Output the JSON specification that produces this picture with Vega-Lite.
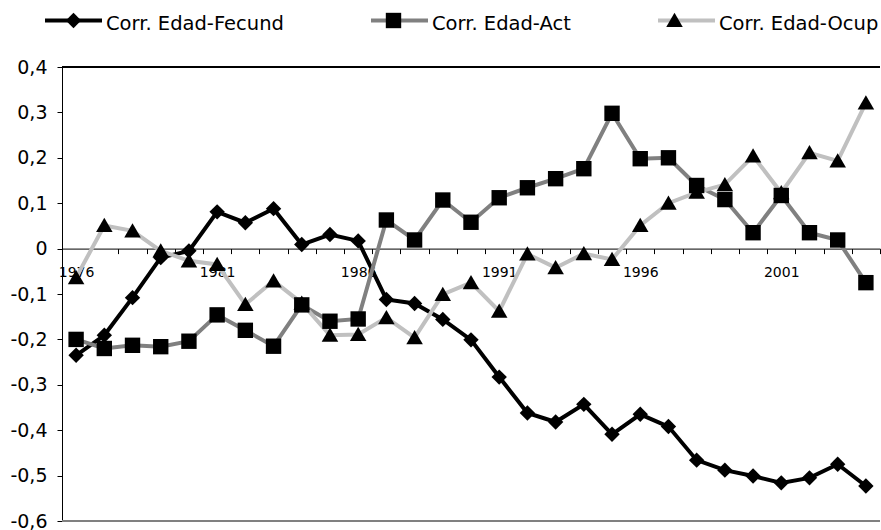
{
  "$schema": "https://vega.github.io/schema/vega-lite/v6.json",
  "width": 818,
  "height": 454,
  "autosize": "none",
  "padding": {"left": 62, "top": 67, "right": 1, "bottom": 9},
  "background": "white",
  "config": {"view": {"stroke": null}, "font": "DejaVu Sans"},
  "data": {"values": [
    {"year": 1976, "series": "Corr. Edad-Fecund", "value": -0.235},
    {"year": 1977, "series": "Corr. Edad-Fecund", "value": -0.191},
    {"year": 1978, "series": "Corr. Edad-Fecund", "value": -0.108},
    {"year": 1979, "series": "Corr. Edad-Fecund", "value": -0.020},
    {"year": 1980, "series": "Corr. Edad-Fecund", "value": -0.005},
    {"year": 1981, "series": "Corr. Edad-Fecund", "value": 0.081},
    {"year": 1982, "series": "Corr. Edad-Fecund", "value": 0.057},
    {"year": 1983, "series": "Corr. Edad-Fecund", "value": 0.088},
    {"year": 1984, "series": "Corr. Edad-Fecund", "value": 0.009},
    {"year": 1985, "series": "Corr. Edad-Fecund", "value": 0.031},
    {"year": 1986, "series": "Corr. Edad-Fecund", "value": 0.017},
    {"year": 1987, "series": "Corr. Edad-Fecund", "value": -0.112},
    {"year": 1988, "series": "Corr. Edad-Fecund", "value": -0.121},
    {"year": 1989, "series": "Corr. Edad-Fecund", "value": -0.156},
    {"year": 1990, "series": "Corr. Edad-Fecund", "value": -0.201},
    {"year": 1991, "series": "Corr. Edad-Fecund", "value": -0.283},
    {"year": 1992, "series": "Corr. Edad-Fecund", "value": -0.362},
    {"year": 1993, "series": "Corr. Edad-Fecund", "value": -0.382},
    {"year": 1994, "series": "Corr. Edad-Fecund", "value": -0.343},
    {"year": 1995, "series": "Corr. Edad-Fecund", "value": -0.409},
    {"year": 1996, "series": "Corr. Edad-Fecund", "value": -0.365},
    {"year": 1997, "series": "Corr. Edad-Fecund", "value": -0.392},
    {"year": 1998, "series": "Corr. Edad-Fecund", "value": -0.466},
    {"year": 1999, "series": "Corr. Edad-Fecund", "value": -0.488},
    {"year": 2000, "series": "Corr. Edad-Fecund", "value": -0.501},
    {"year": 2001, "series": "Corr. Edad-Fecund", "value": -0.516},
    {"year": 2002, "series": "Corr. Edad-Fecund", "value": -0.505},
    {"year": 2003, "series": "Corr. Edad-Fecund", "value": -0.475},
    {"year": 2004, "series": "Corr. Edad-Fecund", "value": -0.523},
    {"year": 1976, "series": "Corr. Edad-Act", "value": -0.200},
    {"year": 1977, "series": "Corr. Edad-Act", "value": -0.220},
    {"year": 1978, "series": "Corr. Edad-Act", "value": -0.213},
    {"year": 1979, "series": "Corr. Edad-Act", "value": -0.216},
    {"year": 1980, "series": "Corr. Edad-Act", "value": -0.204},
    {"year": 1981, "series": "Corr. Edad-Act", "value": -0.146},
    {"year": 1982, "series": "Corr. Edad-Act", "value": -0.180},
    {"year": 1983, "series": "Corr. Edad-Act", "value": -0.215},
    {"year": 1984, "series": "Corr. Edad-Act", "value": -0.124},
    {"year": 1985, "series": "Corr. Edad-Act", "value": -0.160},
    {"year": 1986, "series": "Corr. Edad-Act", "value": -0.155},
    {"year": 1987, "series": "Corr. Edad-Act", "value": 0.063},
    {"year": 1988, "series": "Corr. Edad-Act", "value": 0.019},
    {"year": 1989, "series": "Corr. Edad-Act", "value": 0.107},
    {"year": 1990, "series": "Corr. Edad-Act", "value": 0.058},
    {"year": 1991, "series": "Corr. Edad-Act", "value": 0.112},
    {"year": 1992, "series": "Corr. Edad-Act", "value": 0.134},
    {"year": 1993, "series": "Corr. Edad-Act", "value": 0.154},
    {"year": 1994, "series": "Corr. Edad-Act", "value": 0.176},
    {"year": 1995, "series": "Corr. Edad-Act", "value": 0.298},
    {"year": 1996, "series": "Corr. Edad-Act", "value": 0.198},
    {"year": 1997, "series": "Corr. Edad-Act", "value": 0.200},
    {"year": 1998, "series": "Corr. Edad-Act", "value": 0.139},
    {"year": 1999, "series": "Corr. Edad-Act", "value": 0.108},
    {"year": 2000, "series": "Corr. Edad-Act", "value": 0.035},
    {"year": 2001, "series": "Corr. Edad-Act", "value": 0.117},
    {"year": 2002, "series": "Corr. Edad-Act", "value": 0.035},
    {"year": 2003, "series": "Corr. Edad-Act", "value": 0.019},
    {"year": 2004, "series": "Corr. Edad-Act", "value": -0.075},
    {"year": 1976, "series": "Corr. Edad-Ocup", "value": -0.064},
    {"year": 1977, "series": "Corr. Edad-Ocup", "value": 0.051},
    {"year": 1978, "series": "Corr. Edad-Ocup", "value": 0.039},
    {"year": 1979, "series": "Corr. Edad-Ocup", "value": -0.005},
    {"year": 1980, "series": "Corr. Edad-Ocup", "value": -0.027},
    {"year": 1981, "series": "Corr. Edad-Ocup", "value": -0.035},
    {"year": 1982, "series": "Corr. Edad-Ocup", "value": -0.123},
    {"year": 1983, "series": "Corr. Edad-Ocup", "value": -0.071},
    {"year": 1984, "series": "Corr. Edad-Ocup", "value": -0.120},
    {"year": 1985, "series": "Corr. Edad-Ocup", "value": -0.191},
    {"year": 1986, "series": "Corr. Edad-Ocup", "value": -0.189},
    {"year": 1987, "series": "Corr. Edad-Ocup", "value": -0.152},
    {"year": 1988, "series": "Corr. Edad-Ocup", "value": -0.196},
    {"year": 1989, "series": "Corr. Edad-Ocup", "value": -0.101},
    {"year": 1990, "series": "Corr. Edad-Ocup", "value": -0.075},
    {"year": 1991, "series": "Corr. Edad-Ocup", "value": -0.138},
    {"year": 1992, "series": "Corr. Edad-Ocup", "value": -0.012},
    {"year": 1993, "series": "Corr. Edad-Ocup", "value": -0.042},
    {"year": 1994, "series": "Corr. Edad-Ocup", "value": -0.011},
    {"year": 1995, "series": "Corr. Edad-Ocup", "value": -0.024},
    {"year": 1996, "series": "Corr. Edad-Ocup", "value": 0.051},
    {"year": 1997, "series": "Corr. Edad-Ocup", "value": 0.100},
    {"year": 1998, "series": "Corr. Edad-Ocup", "value": 0.124},
    {"year": 1999, "series": "Corr. Edad-Ocup", "value": 0.141},
    {"year": 2000, "series": "Corr. Edad-Ocup", "value": 0.204},
    {"year": 2001, "series": "Corr. Edad-Ocup", "value": 0.123},
    {"year": 2002, "series": "Corr. Edad-Ocup", "value": 0.211},
    {"year": 2003, "series": "Corr. Edad-Ocup", "value": 0.193},
    {"year": 2004, "series": "Corr. Edad-Ocup", "value": 0.321}
  ]},
  "layer": [
    {
      "mark": {"type": "line", "strokeWidth": 4},
      "encoding": {
        "x": {
          "field": "year", "type": "ordinal",
          "scale": {"type": "band", "paddingInner": 0, "paddingOuter": 0},
          "axis": {
            "orient": "bottom", "offset": -272.4, "title": null, "labelAngle": 0,
            "tickBand": "extent", "tickSize": 5, "tickColor": "#000000", "domainColor": "#000000",
            "labelFontSize": 14, "labelColor": "#000000", "labelPadding": 12, "labelOverlap": false,
            "labelExpr": "(datum.value - 1976) % 5 === 0 ? datum.label : ''", "grid": false
          }
        },
        "y": {
          "field": "value", "type": "quantitative",
          "scale": {"domain": [-0.6, 0.4], "nice": false, "zero": false},
          "axis": {
            "title": null, "values": [-0.6, -0.5, -0.4, -0.3, -0.2, -0.1, 0, 0.1, 0.2, 0.3, 0.4],
            "labelExpr": "datum.value === 0 ? '0' : replace(replace(format(datum.value, '.1f'), '.', ','), '\u2212', '-')",
            "tickSize": 5, "tickColor": "#000000", "domainColor": "#000000",
            "labelFontSize": 19, "labelColor": "#000000", "labelPadding": 10, "grid": false
          }
        },
        "color": {
          "field": "series", "type": "nominal",
          "scale": {"domain": ["Corr. Edad-Fecund", "Corr. Edad-Act", "Corr. Edad-Ocup"], "range": ["#000000", "#808080", "#c0c0c0"]},
          "legend": {
            "orient": "none", "legendX": -19, "legendY": -77, "direction": "horizontal", "title": null,
            "padding": 0, "symbolType": "M-1,0H1", "symbolSize": 3249, "symbolStrokeWidth": 4,
            "labelFontSize": 19.5, "labelColor": "#000000", "labelOffset": 2, "columnPadding": 79, "labelLimit": 400,
            "encoding": {"labels": {"dy": {"value": 3}}}
          }
        }
      }
    },
    {
      "mark": {"type": "point", "filled": true, "opacity": 1, "color": "#000000", "size": 3249},
      "encoding": {
        "x": {"field": "year", "type": "ordinal"},
        "y": {"field": "value", "type": "quantitative"},
        "shape": {
          "field": "series", "type": "nominal",
          "sort": ["Corr. Edad-Fecund", "Corr. Edad-Act", "Corr. Edad-Ocup"],
          "scale": {"range": ["M0,-0.27L0.27,0L0,0.27L-0.27,0Z", "M-0.27,-0.27H0.27V0.27H-0.27Z", "M0,-0.27L0.29,0.23H-0.29Z"]},
          "legend": {
            "orient": "none", "legendX": -19, "legendY": -77, "direction": "horizontal", "title": null,
            "padding": 0, "symbolSize": 3249, "symbolStrokeWidth": 4, "symbolStrokeColor": "transparent",
            "labelFontSize": 19.5, "labelColor": "#000000", "labelOpacity": 0, "labelOffset": 2, "columnPadding": 79, "labelLimit": 400,
            "encoding": {"labels": {"dy": {"value": 26}}}
          }
        }
      }
    },
    {
      "mark": {"type": "rule", "color": "#000000", "strokeWidth": 1},
      "encoding": {"y": {"datum": 0.4, "type": "quantitative"}}
    },
    {
      "mark": {"type": "rule", "color": "#808080", "strokeWidth": 1.5},
      "encoding": {"y": {"datum": -0.6, "type": "quantitative"}}
    }
  ]
}
